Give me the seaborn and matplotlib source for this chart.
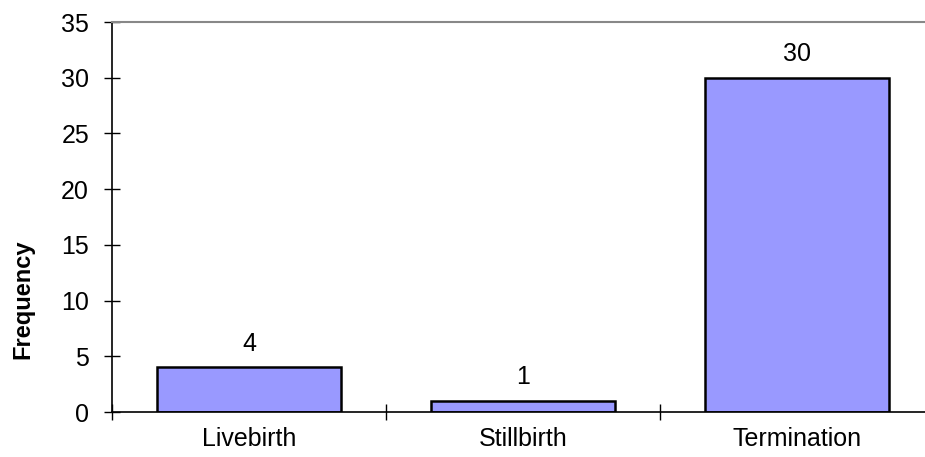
import pandas as pd
import matplotlib.pyplot as plt
import seaborn as sns

# Data
outcomes = ['Livebirth', 'Stillbirth', 'Termination']
counts = [4, 1, 30]
y_ticks = [0, 5, 10, 15, 20, 25, 30, 35]

df = pd.DataFrame({'Outcome': outcomes, 'Frequency': counts})

sns.set_style("white")
plt.rcParams['font.family'] = ['Liberation Sans', 'DejaVu Sans']

fig = plt.figure(figsize=(9.25, 4.57), dpi=100)
ax = fig.add_axes([112 / 925, 45 / 457, 822 / 925, 390 / 457])

sns.barplot(data=df, x='Outcome', y='Frequency', color='#9999FF', saturation=1,
            width=0.67, edgecolor='black', linewidth=1.8, ax=ax)

# value labels above bars
for i, v in enumerate(counts):
    ax.annotate(str(v), (i, v), xytext=(0, 12), textcoords='offset points',
                ha='center', va='baseline', fontsize=18, color='black')

ax.set_xlim(-0.5, 2.5)
ax.set_ylim(0, 35)
ax.set_yticks(y_ticks)
ax.tick_params(axis='y', left=True, direction='inout', length=11, width=1,
               labelsize=18, pad=11, colors='black')

# category boundaries as ticks, labels in between
ax.set_xticks([-0.5, 0.5, 1.5, 2.5])
ax.set_xticklabels([])
ax.set_xticks(range(len(outcomes)), minor=True)
ax.set_xticklabels(outcomes, minor=True, fontsize=18, color='black')
ax.tick_params(axis='x', which='major', bottom=True, direction='inout',
               length=11, width=1, colors='black')
ax.tick_params(axis='x', which='minor', bottom=True, length=0, pad=11)

ax.set_xlabel('')
ax.set_ylabel('Frequency', fontsize=17, fontweight='bold', color='black')
ax.yaxis.set_label_coords(-0.095, 0.29)

for side in ['left', 'bottom']:
    ax.spines[side].set_color('black')
    ax.spines[side].set_linewidth(1.2)
ax.spines['top'].set_color('#888888')
ax.spines['top'].set_linewidth(1.5)
ax.spines['right'].set_visible(False)

fig.savefig('out.png', dpi=100)
